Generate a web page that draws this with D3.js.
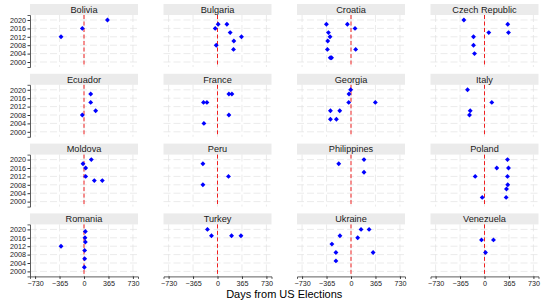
<!DOCTYPE html>
<html><head><meta charset="utf-8">
<script src="https://cdn.jsdelivr.net/npm/d3@7"></script>
<style>body{margin:0;background:#fff;}svg{display:block;font-family:"Liberation Sans",Arial,sans-serif;}</style>
</head><body>
<script>
const countries = ["Bolivia","Bulgaria","Croatia","Czech Republic","Ecuador","France","Georgia","Italy","Moldova","Peru","Philippines","Poland","Romania","Turkey","Ukraine","Venezuela"];
const days = [
  [350,-25,-343],
  [10,140,-34,189,358,244,-19,239],
  [-367,-54,60,-337,-313,-347,-352,70,-310,-290],
  [-308,347,64,358,-164,-164,-149],
  [100,100,174,-25],
  [170,215,-209,-158,170,-203],
  [-5,-30,-34,363,-307,-168,-307,-218],
  [-253,109,-213,-224],
  [109,-15,25,25,154,273],
  [-218,164,-218],
  [-183,194,194],
  [343,183,358,-139,343,347,328,-34,323],
  [20,15,20,-343,10,10,5],
  [-150,-90,210,350],
  [150,270,-165,100,-285,-225,330,-225],
  [-45,134,15]
];
const years = [
  [2020,2016,2012],
  [2018,2018,2016,2014,2012,2010,2008,2006],
  [2018,2018,2016,2014,2012,2010,2006,2006,2002,2002],
  [2020,2018,2014,2014,2012,2008,2004],
  [2018,2014,2010,2008],
  [2018,2018,2014,2014,2008,2004],
  [2020,2018,2014,2014,2010,2010,2006,2006],
  [2020,2014,2010,2008],
  [2020,2018,2016,2012,2010,2010],
  [2018,2012,2008],
  [2018,2020,2014],
  [2020,2016,2016,2012,2012,2008,2006,2002,2002],
  [2019,2016,2014,2012,2010,2006,2002],
  [2020,2017,2017,2017],
  [2020,2020,2017,2016,2013,2009,2009,2005],
  [2015,2015,2009]
];
const xTicks = [-730,-365,0,365,730];
const yTicks = [2000,2004,2008,2012,2016,2020];
const xTitle = "Days from US Elections";

const W = 541, H = 304;
const pw = 108, ph = 52, stripH = 11;
const colStep = 133.5, rowStep = 69.8, left0 = 30, top0 = 15;

const svg = d3.select("body").append("svg").attr("width", W).attr("height", H);
const x = d3.scaleLinear().domain([-806, 806]).range([0, pw]);
const y = d3.scaleLinear().domain([1997.62, 2022.38]).range([ph, 0]);

countries.forEach((c, i) => {
  const col = i % 4, row = Math.floor(i / 4);
  const g = svg.append("g").attr("transform", `translate(${left0 + col*colStep},${top0 + row*rowStep})`);
  g.append("rect").attr("x", 0).attr("y", -stripH).attr("width", pw).attr("height", stripH).attr("fill", "#ebebeb");
  g.append("text").attr("x", pw/2).attr("y", -stripH/2).attr("dy", "0.35em").attr("text-anchor", "middle")
    .attr("font-size", 9.2).attr("fill", "#1a1a1a").text(c);
  g.selectAll(".hg").data(yTicks).join("line")
    .attr("x1", 0).attr("x2", pw).attr("y1", d => y(d)).attr("y2", d => y(d))
    .attr("stroke", "#e3e3e3").attr("stroke-width", 0.7).attr("stroke-dasharray", "7,3");
  g.selectAll(".vg").data(xTicks).join("line")
    .attr("y1", 0).attr("y2", ph).attr("x1", d => x(d)).attr("x2", d => x(d))
    .attr("stroke", "#e3e3e3").attr("stroke-width", 0.7).attr("stroke-dasharray", "7,3");
  g.append("line").attr("x1", x(0)).attr("x2", x(0)).attr("y1", 0).attr("y2", ph)
    .attr("stroke", "#f02020").attr("stroke-width", 1).attr("stroke-dasharray", "4,2.5");
  const pts = days[i].map((d, k) => [d, years[i][k]]);
  g.selectAll(".pt").data(pts).join("path")
    .attr("transform", d => `translate(${x(d[0])},${y(d[1])}) rotate(45)`)
    .attr("d", d3.symbol(d3.symbolSquare, 12)).attr("fill", "#0000ff");
  if (col === 0) {
    const ya = g.append("g").call(d3.axisLeft(y).tickValues(yTicks).tickFormat(d3.format("d")).tickSize(2.5).tickPadding(1.5));
    ya.select(".domain").attr("stroke", "#333").attr("stroke-width", 0.8);
    ya.selectAll(".tick line").attr("stroke", "#333");
    ya.selectAll("text").attr("font-size", 7.2).attr("fill", "#1a1a1a").attr("font-family", "Liberation Sans, Arial, sans-serif");
  }
  if (row === 3) {
    const xa = g.append("g").attr("transform", `translate(0,${ph})`)
      .call(d3.axisBottom(x).tickValues(xTicks).tickSize(2.5).tickPadding(1.5));
    xa.select(".domain").attr("stroke", "#333").attr("stroke-width", 0.8);
    xa.selectAll(".tick line").attr("stroke", "#333");
    xa.selectAll("text").attr("font-size", 7.2).attr("fill", "#1a1a1a").attr("font-family", "Liberation Sans, Arial, sans-serif");
  }
});

svg.append("text").attr("x", left0 + (3*colStep + pw)/2).attr("y", 298).attr("text-anchor", "middle")
  .attr("font-size", 11).attr("fill", "#000").text(xTitle);
</script>
</body></html>
